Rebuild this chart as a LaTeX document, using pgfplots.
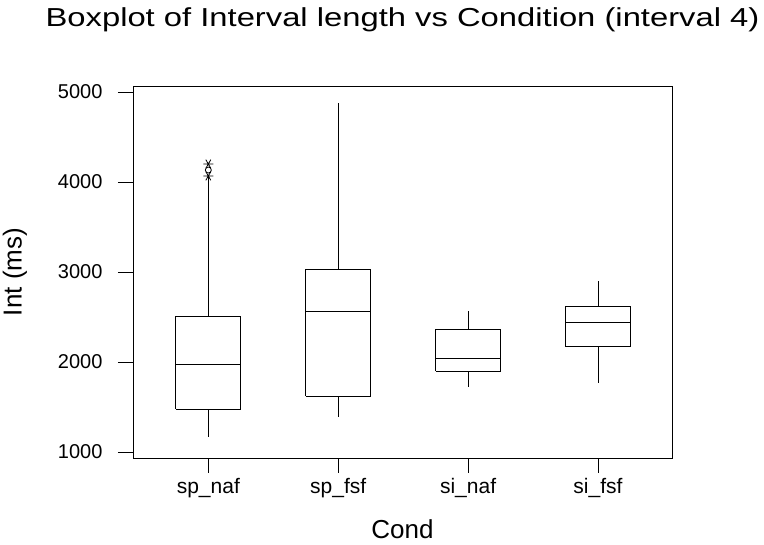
\documentclass[border=0pt]{standalone}
\usepackage{fontspec}
\setmainfont{Liberation Sans}
\newfontfamily\titlefont{Liberation Sans}[FakeStretch=1.26]
\usepackage{pgfplots}
\pgfplotsset{compat=1.18}

\pgfplotsset{
  mtbbox/.style={black, line width=0.9pt, mark=none, line join=miter,
    unbounded coords=jump},
}

\begin{document}
\begin{tikzpicture}
\useasboundingbox (-133pt,-87pt) rectangle (631pt,458pt);
\begin{axis}[
  scale only axis,
  width=539pt, height=372pt,
  xmin=0.42, xmax=4.57, ymin=933, ymax=5067,
  xtick={1,2,3,4}, xticklabels={sp\_naf, sp\_fsf, si\_naf, si\_fsf},
  ytick={1000,2000,3000,4000,5000},
  scaled y ticks=false,
  /pgf/number format/1000 sep={},
  /pgf/number format/assume math mode=true,
  tick align=outside, tick pos=left,
  major tick length=15pt,
  tick style={black, line width=0.8pt},
  axis line style={black, line width=0.8pt},
  yticklabel style={font=\fontsize{20}{20}\selectfont, xshift=-12pt},
  xticklabel style={font=\fontsize{21}{21}\selectfont, yshift=-2pt},
  xlabel={Cond}, ylabel={Int (ms)},
  label style={font=\fontsize{26}{26}\selectfont},
  xlabel style={yshift=-15pt},
  ylabel style={yshift=24pt},
  title={Boxplot of Interval length vs Condition (interval 4)},
  title style={font=\titlefont\fontsize{26}{26}\selectfont, anchor=base, at={(0.5,1)}, yshift=53pt},
]
% sp_naf: box Q1-Q3, median, whiskers
\addplot[mtbbox] coordinates {
  (0.75,1474) (1.25,1474) (1.25,2511) (0.75,2511) (0.75,1474) (0.75,nan)
  (0.75,1978) (1.25,1978) (1.25,nan)
  (1,1474) (1,1170) (1,nan)
  (1,2511) (1,4060)};
% sp_fsf
\addplot[mtbbox] coordinates {
  (1.75,1619) (2.25,1619) (2.25,3033) (1.75,3033) (1.75,1619) (1.75,nan)
  (1.75,2556) (2.25,2556) (2.25,nan)
  (2,1619) (2,1393) (2,nan)
  (2,3033) (2,4874)};
% si_naf
\addplot[mtbbox] coordinates {
  (2.75,1896) (3.25,1896) (3.25,2363) (2.75,2363) (2.75,1896) (2.75,nan)
  (2.75,2044) (3.25,2044) (3.25,nan)
  (3,1896) (3,1726) (3,nan)
  (3,2363) (3,2570)};
% si_fsf
\addplot[mtbbox] coordinates {
  (3.75,2174) (4.25,2174) (4.25,2619) (3.75,2619) (3.75,2174) (3.75,nan)
  (3.75,2444) (4.25,2444) (4.25,nan)
  (4,2174) (4,1763) (4,nan)
  (4,2619) (4,2900)};
% outliers of sp_naf
\addplot[only marks, black, mark=asterisk, mark size=5pt, line width=0.8pt,
  mark options={rotate=90}]
  coordinates {(1,4067) (1,4200)};
\addplot[only marks, black, mark=o, mark size=3pt, line width=0.8pt]
  coordinates {(1,4133)};
\end{axis}
\end{tikzpicture}
\end{document}
